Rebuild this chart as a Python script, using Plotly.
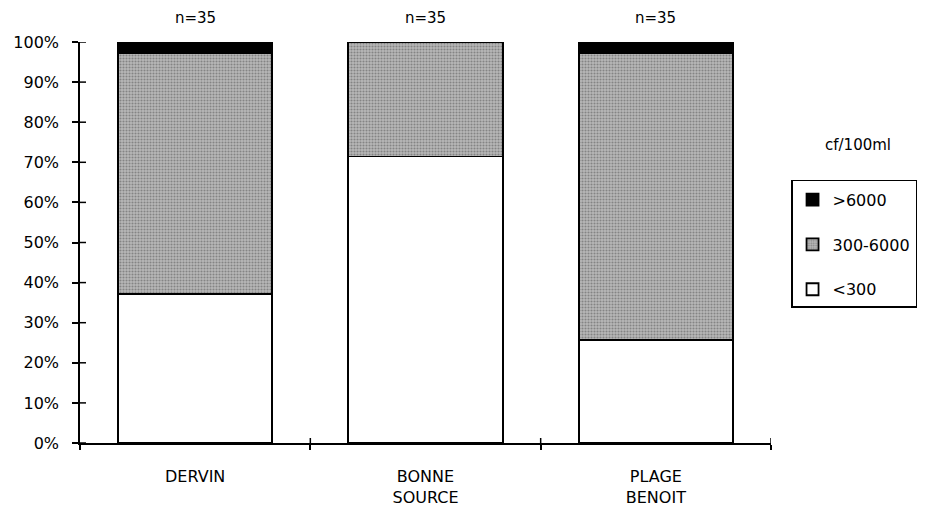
import plotly.graph_objects as go

categories = ["DERVIN", "BONNE<br>SOURCE", "PLAGE<br>BENOIT"]
n_samples = [35, 35, 35]
count_lt300 = [13, 25, 9]
count_mid = [21, 10, 25]
count_gt6000 = [1, 0, 1]
y_ticks = [0, 10, 20, 30, 40, 50, 60, 70, 80, 90, 100]
y_ticktext = ["0%", "10%", "20%", "30%", "40%", "50%", "60%", "70%", "80%", "90%", "100%"]

def pct(counts):
    return [c / n * 100 for c, n in zip(counts, n_samples)]

FONT = "DejaVu Sans, sans-serif"
line = dict(color="black", width=1.8)

fig = go.Figure()
fig.add_trace(go.Bar(x=categories, y=pct(count_lt300), name="<300",
                     legendrank=3, legendgroup="c",
                     marker=dict(color="white", line=line)))
fig.add_trace(go.Bar(x=categories, y=pct(count_mid), name="300-6000",
                     legendrank=2, legendgroup="b",
                     marker=dict(color="#a8a8a8", line=line,
                                 pattern=dict(shape=".", fgcolor="#505050",
                                              bgcolor="#b8b8b8", size=3,
                                              solidity=0.4))))
fig.add_trace(go.Bar(x=categories, y=pct(count_gt6000), name=">6000",
                     legendrank=1, legendgroup="a",
                     marker=dict(color="black", line=line)))

for cat, n in zip(categories, n_samples):
    fig.add_annotation(x=cat, y=100, xref="x", yref="y", yshift=24,
                       text=f"n={n}", showarrow=False,
                       font=dict(family=FONT, size=15, color="black"))

fig.add_annotation(x=1.126, y=0.743, xref="paper", yref="paper",
                   text="cf/100ml", showarrow=False,
                   xanchor="center", yanchor="middle",
                   font=dict(family=FONT, size=15, color="black"))

# inward halves of the crossing tick marks
for v in y_ticks:
    fig.add_shape(type="line", xref="paper", yref="y", xsizemode="pixel",
                  xanchor=0, x0=0, x1=6, y0=v, y1=v,
                  line=dict(color="black", width=1.5))
for i in range(len(categories)):
    fig.add_shape(type="line", xref="x", yref="paper", ysizemode="pixel",
                  yanchor=0, y0=0, y1=5, x0=i + 0.5, x1=i + 0.5,
                  line=dict(color="black", width=1.5))

fig.update_layout(
    width=913, height=498,
    margin=dict(l=72, r=150, t=34, b=63, autoexpand=False),
    paper_bgcolor="white", plot_bgcolor="white",
    barmode="stack", bargap=0.33,
    font=dict(family=FONT, size=15, color="black"),
    showlegend=True,
    legend=dict(x=1.029, y=0.656, xanchor="left", yanchor="top",
                traceorder="grouped", tracegroupgap=21,
                title=dict(text=" ", font=dict(size=1)),
                bordercolor="black", borderwidth=1.5, bgcolor="white",
                font=dict(family=FONT, size=16, color="black"),
                itemwidth=30),
    xaxis=dict(type="category", range=[-0.5, 2.5], showline=True,
               linecolor="black", linewidth=1.5, ticks="outside",
               tickson="boundaries", ticklen=5, tickcolor="black",
               tickwidth=1.5, showgrid=False, ticklabelstandoff=18,
               tickfont=dict(family=FONT, size=16, color="black")),
    yaxis=dict(range=[0, 100], tickmode="array", tickvals=y_ticks,
               ticktext=y_ticktext,
               showline=True, linecolor="black", linewidth=1.5,
               ticks="outside", ticklen=6, tickcolor="black", tickwidth=1.5,
               showgrid=False, zeroline=False, ticklabelstandoff=10,
               tickfont=dict(family=FONT, size=16, color="black")),
)

fig.write_html("out.html")
